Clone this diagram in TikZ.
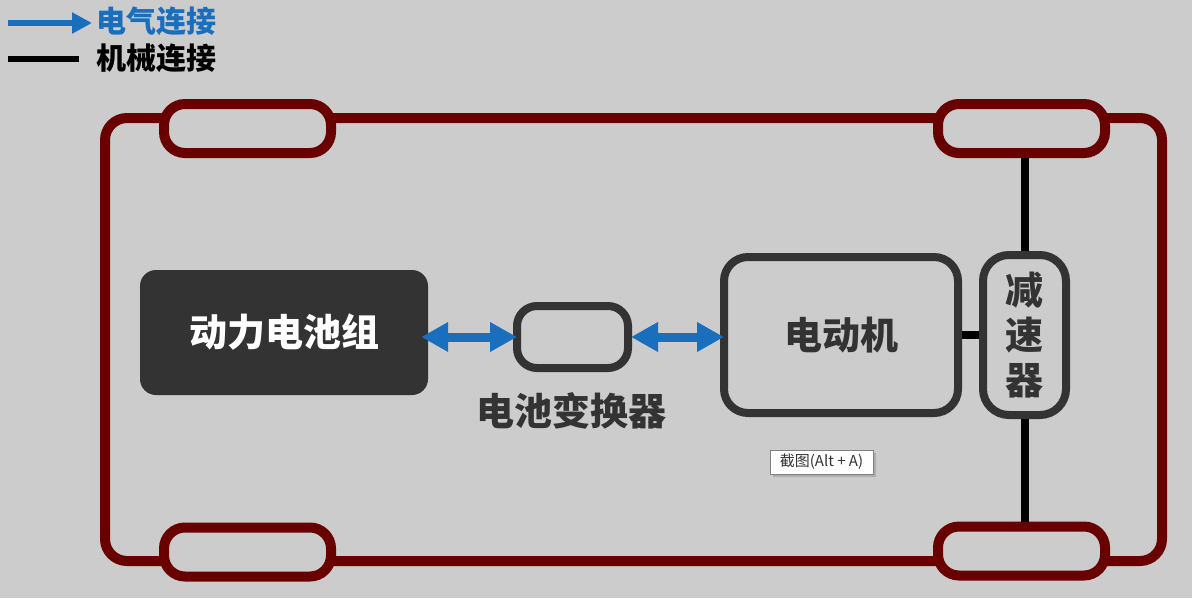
\documentclass[tikz,border=0pt]{standalone}
\usepackage{fontspec}
\setmainfont{Noto Sans CJK SC}
\usetikzlibrary{arrows.meta,shadows}
\definecolor{bg}{RGB}{204,204,204}
\definecolor{framered}{RGB}{104,0,0}
\definecolor{dark}{RGB}{51,51,51}
\definecolor{elblue}{RGB}{25,110,190}
\tikzset{
  wheel/.style={draw=framered, fill=bg, line width=10pt, rounded corners=21pt,
    minimum width=167pt, minimum height=49pt, inner sep=0pt},
  outlinebox/.style={draw=dark, line width=8pt, inner sep=0pt, text=dark,
    font=\fontsize{38}{45}\selectfont\bfseries},
  elarrow/.style={elblue, line width=9pt,
    {Triangle[length=27pt,width=28pt]}-{Triangle[length=27pt,width=28pt]}},
  mechline/.style={black, line width=8pt},
  bigtext/.style={text=dark, font=\fontsize{38}{45}\selectfont\bfseries},
}
\begin{document}
\begin{tikzpicture}[x=1pt,y=-1pt]
\useasboundingbox[fill=bg] (0,0) rectangle (1192,598);
% frame
\draw[framered, line width=10pt, rounded corners=22pt] (105,118) rectangle (1162,561);
% wheels
\node[wheel] (wTL) at (247.5,128.5) {};
\node[wheel] (wTR) at (1021.5,128.5) {};
\node[wheel] (wBL) at (247.5,552) {};
\node[wheel] (wBR) at (1021.5,551) {};
% blocks
\node[fill=dark, rounded corners=16pt, minimum width=288pt, minimum height=125pt,
  inner sep=0pt, text=white, font=\fontsize{38}{45}\selectfont\bfseries]
  (battery) at (284,332.5) {动力电池组};
\node[outlinebox, rounded corners=20pt, minimum width=111pt, minimum height=62pt]
  (conv) at (572.5,337) {};
\node[bigtext] (convlabel) at (571,411) {电池变换器};
\node[outlinebox, rounded corners=24pt, minimum width=234pt, minimum height=156pt]
  (motor) at (841,335) {电动机};
\node[outlinebox, rounded corners=26pt, minimum width=83pt, minimum height=160pt,
  align=center] (reducer) at (1024.5,335) {减\\速\\器};
% mechanical links
\draw[mechline] (reducer.north) -- (reducer.north |- wTR.south);
\draw[mechline] (reducer.south) -- (reducer.south |- wBR.north);
\draw[mechline] (motor.east) -- (motor.east -| reducer.west);
% electrical links
\draw[elarrow, shorten <=-7pt, shorten >=-4pt] (conv.west -| battery.east) -- (conv.west);
\draw[elarrow, shorten <=-1pt, shorten >=-4pt] (conv.east) -- (conv.east -| motor.west);
% legend
\coordinate (la1) at (8,23);
\coordinate (la2) at (92,23);
\draw[elblue, line width=6pt, -{Triangle[length=20pt,width=20pt]}] (la1) -- (la2);
\node[anchor=west, text=elblue, inner sep=0pt, font=\fontsize{30}{34}\selectfont\bfseries]
  (leg1) at (96,21) {电气连接};
\coordinate (lb1) at (8,59);
\coordinate (lb2) at (79,59);
\draw[black, line width=6pt] (lb1) -- (lb2);
\node[anchor=west, text=black, inner sep=0pt, font=\fontsize{30}{34}\selectfont\bfseries]
  (leg2) at (96,58) {机械连接};
% tooltip
\node[draw=gray, fill=white, line width=0.8pt, minimum width=103pt, minimum height=24pt,
  inner sep=0pt, text=dark, font=\fontsize{15}{17}\selectfont,
  drop shadow={shadow xshift=3pt, shadow yshift=-3pt, fill=gray!70, opacity=0.8}]
  (tip) at (821.5,462) {截图(Alt + A)};
\end{tikzpicture}
\end{document}
